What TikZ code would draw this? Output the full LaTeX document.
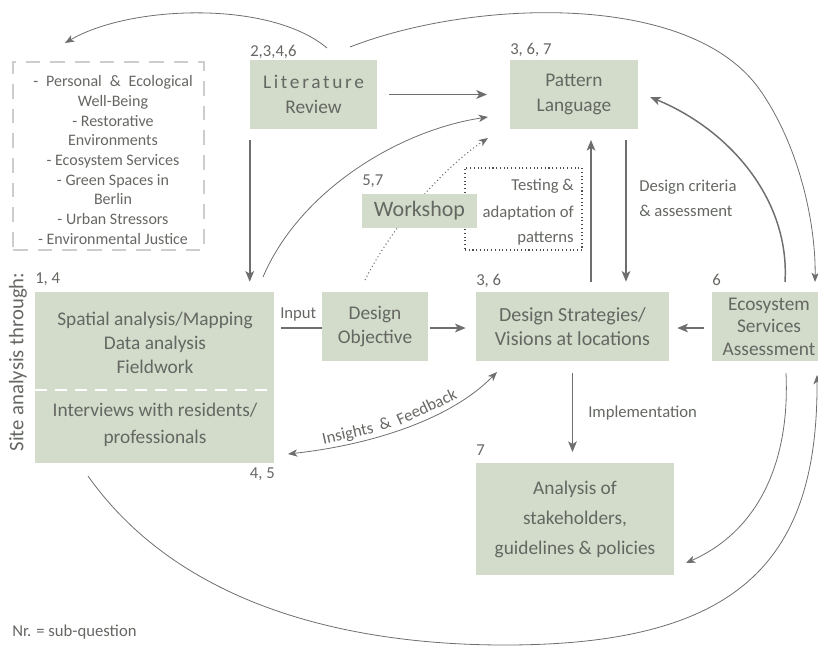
\documentclass[tikz,border=0pt]{standalone}
\usepackage{fontspec}
\setmainfont{Carlito}
\newfontfamily\spacedfont[LetterSpace=14]{Carlito}
\usetikzlibrary{arrows.meta,fit,calc}
\definecolor{boxg}{RGB}{211,219,202}
\definecolor{txt}{RGB}{100,103,98}
\definecolor{linec}{RGB}{110,110,110}
\definecolor{dashg}{RGB}{205,205,205}
\tikzset{
  box/.style={fill=boxg, draw=none, inner sep=0pt, text=txt, align=center,
              font=\fontsize{14.5}{18.5}\selectfont},
  lbl/.style={text=txt, inner sep=0pt, font=\fontsize{12.5}{15}\selectfont},
  listtext/.style={text=txt, inner sep=0pt, align=center, font=\fontsize{12}{14.8}\selectfont},
  arr/.style={draw=linec, line width=1.2pt, -{Stealth[length=8pt,width=6.5pt,inset=2pt]}},
  thinline/.style={draw=linec, line width=0.6pt},
  thinarr/.style={thinline, -{Stealth[length=7pt,width=5.5pt,inset=2pt]}},
  thickcurve/.style={draw=linec, line width=1.1pt, -{Stealth[length=8pt,width=6.5pt,inset=2pt]}},
}
\begin{document}
\begin{tikzpicture}[x=0.75pt,y=-0.75pt]
\useasboundingbox (0,0) rectangle (818,658);

% boxes
\node[box, minimum width=95.25pt, minimum height=51.75pt] (lit) at (313.5,94.5) {{\spacedfont Literature}\\Review};
\node[box, minimum width=96pt, minimum height=51.75pt] (pat) at (574,94.5) {Pattern\\Language};
\node[draw=dashg, dash pattern=on 11pt off 7.5pt, line width=1.5pt, inner sep=0pt,
      fit={(13,62) (204,250)}] (list) {};
\node[listtext] (listtxt) at (113,160) {-\hspace{0.5em}Personal\hspace{0.5em}\&\hspace{0.5em}Ecological\\Well-Being\\- Restorative\\Environments\\- Ecosystem Services\\- Green Spaces in\\Berlin\\- Urban Stressors\\- Environmental Justice};

% dotted testing box and dotted curve (behind workshop)
\node[draw=black!70, dotted, line width=0.8pt, inner sep=0pt, fit={(465,168) (582,250)}] (test) {};
\node[lbl, anchor=base east] (t1) at (574,190) {Testing \&};
\node[lbl, anchor=base east] (t2) at (574,217) {adaptation of};
\node[lbl, anchor=base east] (t3) at (574,242) {patterns};

\node[box, minimum width=179.25pt, minimum height=128.25pt] (spatial) at (154.5,377.5) {};
\node[box, minimum width=79.5pt, minimum height=51.75pt] (obj) at (375,326.5) {Design\\Objective};
\node[box, minimum width=144.75pt, minimum height=51.75pt, font=\fontsize{15}{18}\selectfont] (ds) at (572.5,326.5) {Design Strategies/\\Visions at locations};
\node[box, minimum width=85.5pt, minimum height=51.75pt, font=\fontsize{14.5}{16.8}\selectfont] (eco) at (769,326.5) {Ecosystem\\Services\\Assessment};
\node[box, minimum width=148.5pt, minimum height=84pt, font=\fontsize{14.5}{22.5}\selectfont] (ana) at (575,519) {Analysis of\\stakeholders,\\guidelines \& policies};

\coordinate (g1) at (365,280);
\coordinate (g2) at (488,138);
\draw[draw=linec, line width=0.8pt, dotted, -{Stealth[length=7pt,width=5.5pt,inset=2pt]}]
  (g1) .. controls (390,230) and (440,170) .. (g2);

\node[box, minimum width=86.25pt, minimum height=25.5pt, font=\fontsize{16.5}{18}\selectfont] (work) at (419.5,211) {Workshop};

% spatial box contents
\coordinate (sl) at (35,390);
\coordinate (sr) at (274,390);
\draw[white, line width=1.5pt, dash pattern=on 9pt off 6pt] (sl) -- (sr);
\node[box, fill=none, font=\fontsize{14.5}{18}\selectfont] (sp1) at (155,343) {Spatial analysis/Mapping\\Data analysis\\Fieldwork};
\node[box, fill=none, font=\fontsize{14.5}{20}\selectfont] (sp2) at (155,425) {Interviews with residents/\\professionals};

% number labels
\node[lbl, anchor=base west] (n1) at (250,56) {2,3,4,6};
\node[lbl, anchor=base west] (n2) at (510,54) {3, 6, 7};
\node[lbl, anchor=base west] (n3) at (362,185) {5,7};
\node[lbl, anchor=base west] (n4) at (35,283) {1, 4};
\node[lbl, anchor=base west] (n5) at (476,285) {3, 6};
\node[lbl, anchor=base west] (n6) at (712,285) {6};
\node[lbl, anchor=base west] (n7) at (476,455) {7};
\node[lbl, anchor=base east] (n8) at (275,478) {4, 5};
\node[lbl, anchor=base west] (nr) at (12,636) {Nr. = sub-question};
\node[lbl, rotate=90, font=\fontsize{15.5}{17}\selectfont] (site) at (18,362) {Site analysis through:};

% straight connectors
\draw[arr, shorten <=9pt, shorten >=17pt] (lit.east) -- (pat.west);
\draw[arr, shorten <=8pt, shorten >=7.5pt] (lit.south west) -- (lit.south west |- spatial.north);
\draw[arr, shorten <=7.5pt, shorten >=8pt] ($(ds.north)+(18.5,0)$) -- ($(pat.south)+(17,0)$);
\draw[arr, shorten <=8pt, shorten >=7.5pt] ($(pat.south)+(52,0)$) -- ($(ds.north)+(53.5,0)$);
\draw[arr, shorten <=9pt, shorten >=8pt] (ds.south) -- (ds.south |- ana.north);
\draw[arr, shorten <=1.5pt, shorten >=7.5pt] ($(obj.east)+(0,1.5)$) -- ($(ds.west)+(0,1.5)$);
\draw[arr, shorten <=6pt, shorten >=6pt] ($(eco.west)+(0,1.5)$) -- ($(ds.east)+(0,1.5)$);
\draw[draw=linec, line width=1.2pt, shorten <=5.25pt] ($(obj.west -| spatial.east)+(0,1.5)$) -- ($(obj.west)+(0,1.5)$);
\node[lbl, anchor=base west] (inp) at (280,318) {Input};
\node[lbl, anchor=base west] (dc1) at (639,191) {Design criteria};
\node[lbl, anchor=base west] (dc2) at (639,216) {\& assessment};
\node[lbl, anchor=base west] (imp) at (588,417) {Implementation};

% curved connectors
\coordinate (a1) at (327,48);
\coordinate (a2) at (65,43);
\draw[thinarr] (a1) .. controls (270,0) and (130,5) .. (a2);

\coordinate (b1) at (350,47);
\coordinate (b2) at (815,282);
\draw[thinarr] (b1) .. controls (470,0) and (690,-10) .. (760,90) .. controls (802,150) and (816,230) .. (b2);

\coordinate (c1) at (785,282);
\coordinate (c2) at (650,97);
\draw[thickcurve] (c1) .. controls (790,200) and (730,130) .. (c2);

\coordinate (d1) at (786,373);
\coordinate (d2) at (686,563);
\draw[thinarr] (d1) .. controls (790,460) and (760,530) .. (d2);

\coordinate (e1) at (88,476);
\coordinate (e2) at (817,375);
\draw[thinarr] (e1) .. controls (190,620) and (380,645) .. (505,645) .. controls (740,645) and (818,560) .. (e2);

\coordinate (f1) at (263,277);
\coordinate (f2) at (488,117);
\draw[thinarr] (f1) .. controls (300,190) and (400,130) .. (f2);

\coordinate (h1) at (288,454);
\coordinate (h2) at (497,372);
\draw[thinline, {Stealth[length=7pt,width=5.5pt,inset=2pt]}-{Stealth[length=7pt,width=5.5pt,inset=2pt]}]
  (h1) .. controls (370,445) and (450,420) .. (h2);
\node[lbl, rotate=12.6, anchor=base] (ins1) at (349,438.5) {Insights};
\node[lbl, rotate=17.6, anchor=base] (ins2) at (386.5,429) {\&};
\node[lbl, rotate=25, anchor=base] (ins3) at (429,412) {Feedback};
\end{tikzpicture}
\end{document}
